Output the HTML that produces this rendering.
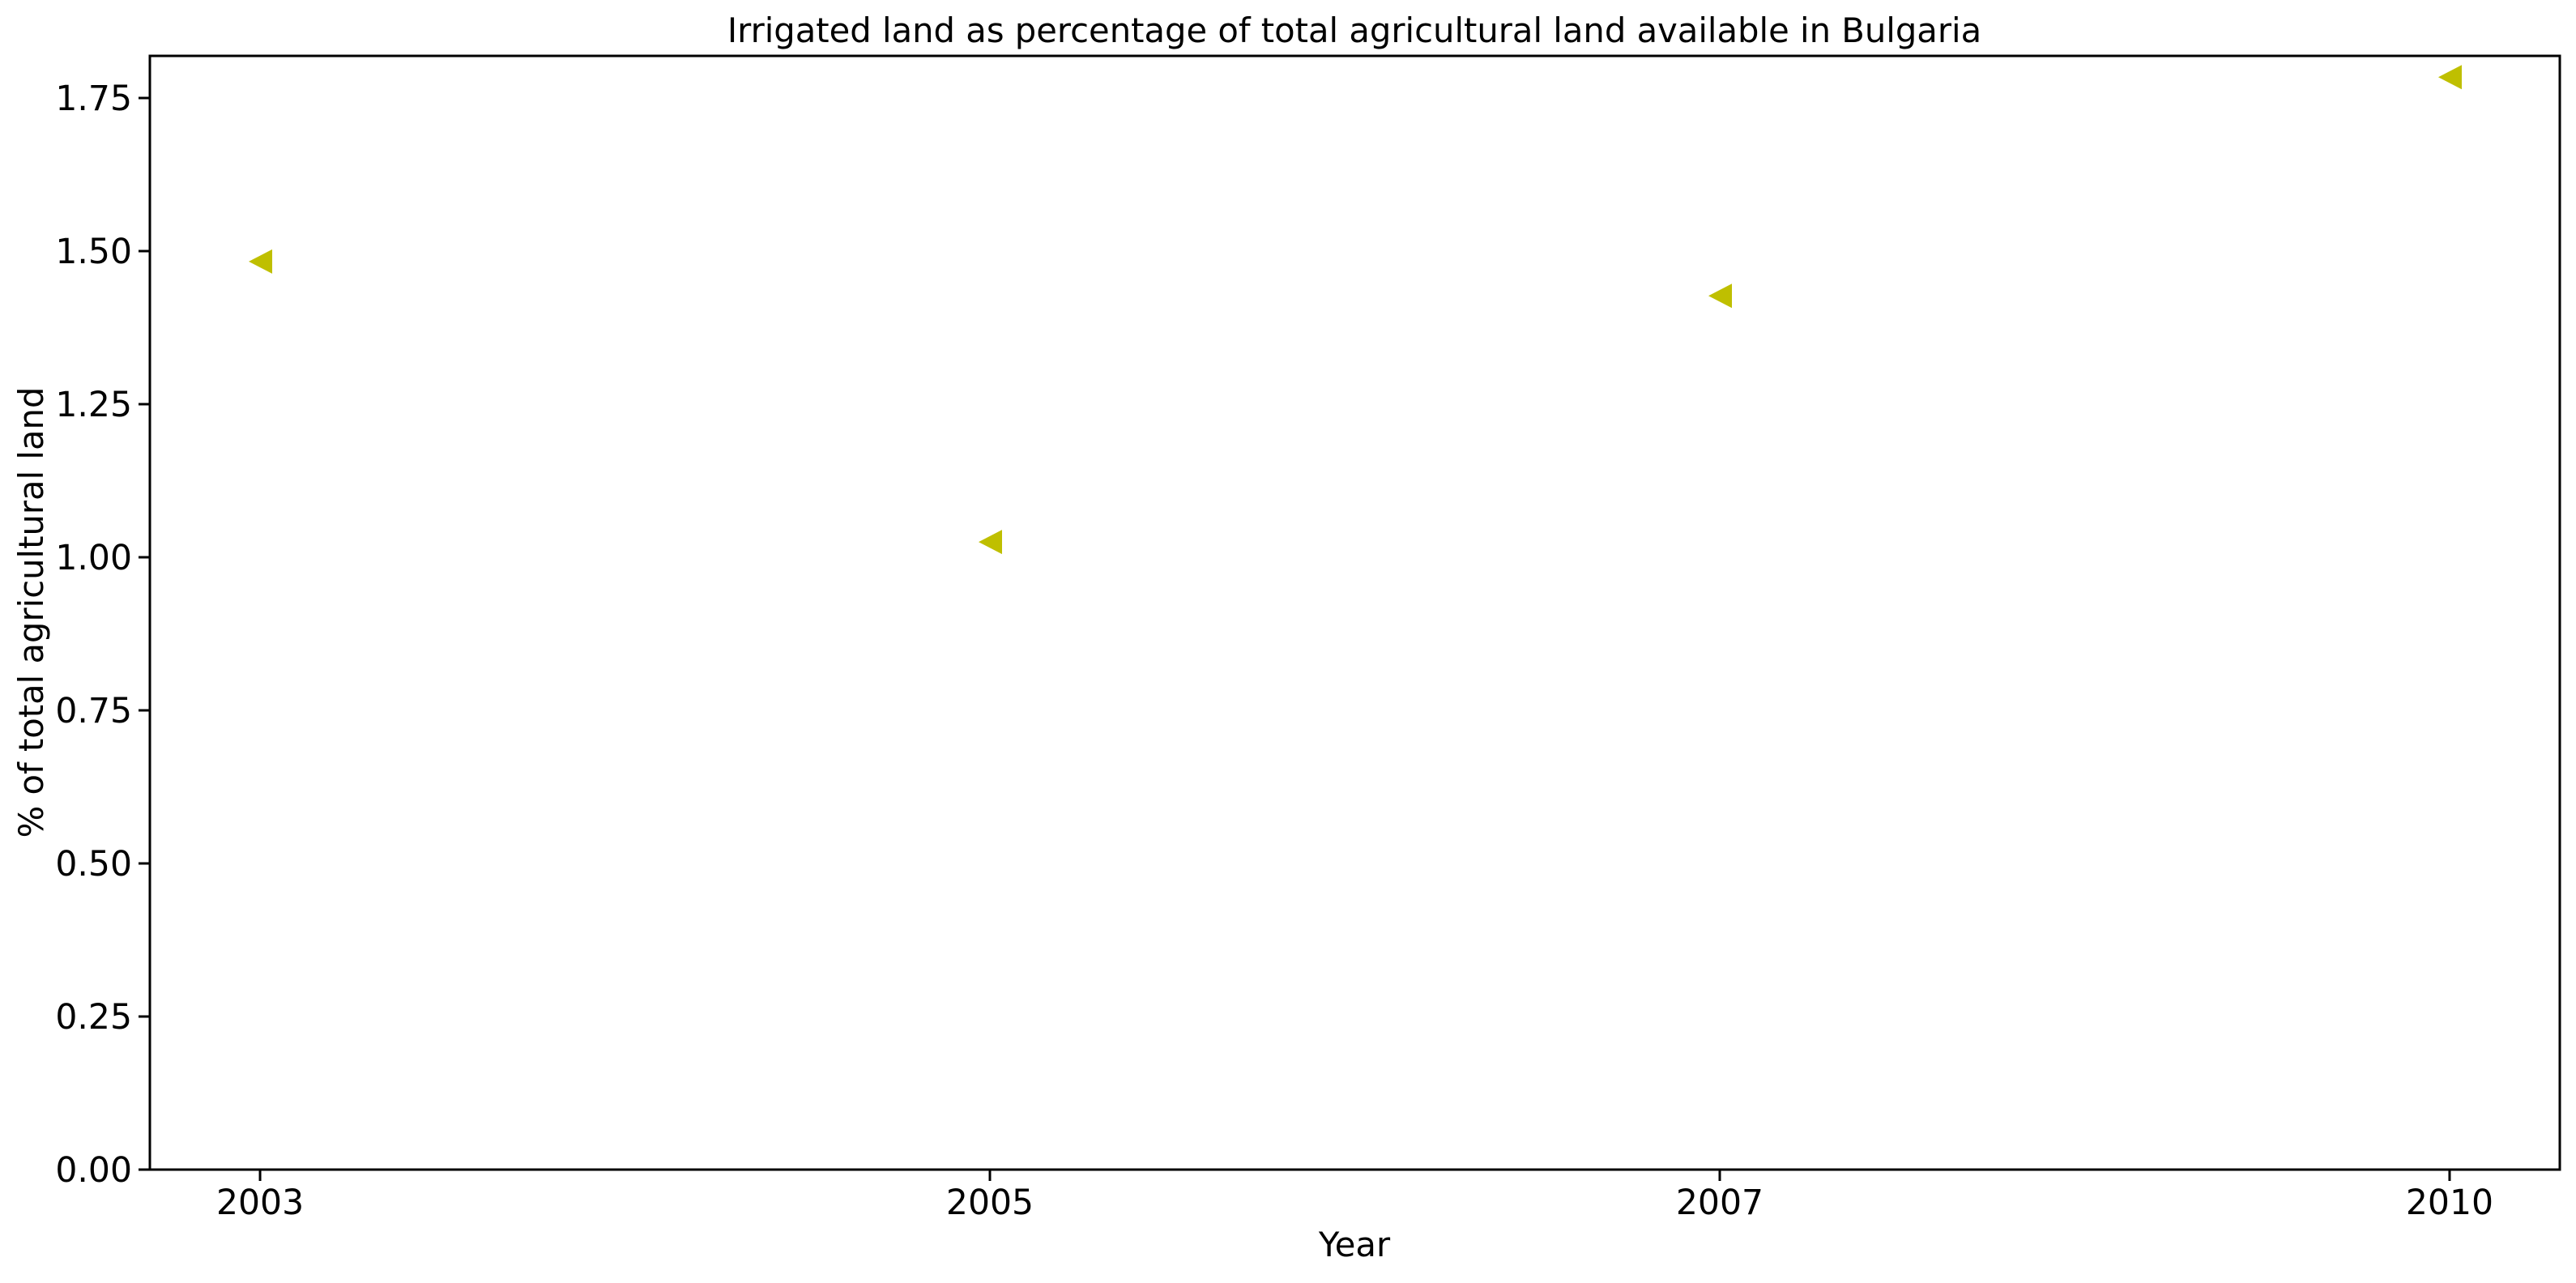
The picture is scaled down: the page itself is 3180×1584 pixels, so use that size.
<!DOCTYPE html>
<html><head><meta charset="utf-8"><style>
html,body{margin:0;padding:0;background:#fff;}
svg text{font-family:"DejaVu Sans","Liberation Sans",sans-serif;fill:#000;}
</style></head><body>
<svg id="chart" width="3180" height="1579" xmlns="http://www.w3.org/2000/svg">
<rect width="3180" height="1579" fill="#fff"/>
<text x="1672" y="52" font-size="41.7" text-anchor="middle">Irrigated land as percentage of total agricultural land available in Bulgaria</text>
<text x="1672" y="1551" font-size="41.7" text-anchor="middle">Year</text>
<text x="0" y="0" font-size="41.7" text-anchor="middle" transform="translate(53,756) rotate(-90)">% of total agricultural land</text>
<g id="yticks"></g>
<g id="xticks"></g>
<g id="marks"></g>
<rect x="185" y="69" width="2975" height="1375" fill="none" stroke="#000" stroke-width="3"/>
</svg>
<script>
const categories = ["2003","2005","2007","2010"];
const values = [1.483, 1.025, 1.427, 1.784];
const yTicks = [0, 0.25, 0.5, 0.75, 1.0, 1.25, 1.5, 1.75];
const yTickLabels = ["0.00","0.25","0.50","0.75","1.00","1.25","1.50","1.75"];

const L=185,R=3160,T=69,B=1444, yMax=1.8188;
const xs = i => L + (i + 0.151) / (categories.length - 1 + 0.302) * (R - L);
const ys = v => B - v / yMax * (B - T);
const NS="http://www.w3.org/2000/svg";
function mk(tag, attrs){const e=document.createElementNS(NS,tag);for(const k in attrs)e.setAttribute(k,attrs[k]);return e;}
const yg=document.getElementById('yticks'), xg=document.getElementById('xticks'), mg=document.getElementById('marks');
yTicks.forEach((v,i)=>{
  const y=ys(v);
  const t=mk('line',{x1:L-14,x2:L,y1:y,y2:y,stroke:'#000','stroke-width':3});
  
  
  yg.appendChild(t);
  const tx=mk('text',{x:L-22,y:y+15,'font-size':42.5,'text-anchor':'end'});
  tx.textContent=yTickLabels[i];
  
  
  yg.appendChild(tx);
});
categories.forEach((c,i)=>{
  const x=xs(i);
  const t=mk('line',{x1:x,x2:x,y1:B,y2:B+14,stroke:'#000','stroke-width':3});
  
  
  xg.appendChild(t);
  const tx=mk('text',{x:x,y:B+55,'font-size':42.5,'text-anchor':'middle'});
  tx.textContent=c;
  
  
  xg.appendChild(tx);
  const y=ys(values[i]);
  const p=mk('polygon',{points:`${x-14},${y} ${x+15},${y-15} ${x+15},${y+15}`,fill:'#bfbf00'});
  
  
  mg.appendChild(p);
});
</script>
</body></html>
